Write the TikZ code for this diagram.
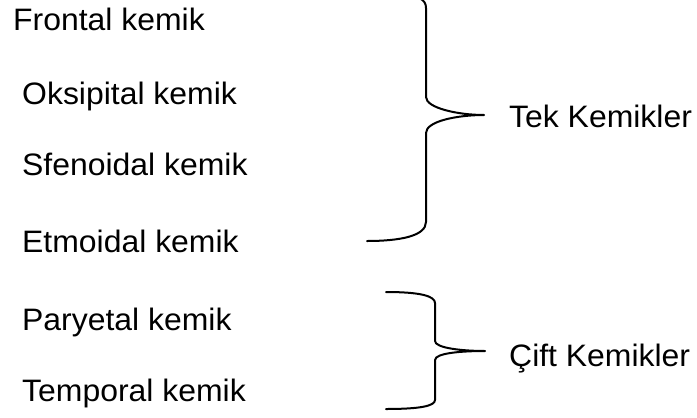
\documentclass[tikz,border=0pt]{standalone}
\usepackage{fontspec}
\setmainfont{Liberation Sans}[FakeStretch=1.03]
\begin{document}
\begin{tikzpicture}[x=1pt,y=-1pt,
  lbl/.style={anchor=base west,inner sep=0pt,font=\fontsize{31}{37}\selectfont},
  brace/.style={line width=2pt,line cap=round,line join=round}]
\useasboundingbox (0,0) rectangle (697,418);
\clip (0,0) rectangle (697,418);
\node[lbl] (fr) at (13,30) {Frontal kemik};
\node[lbl] (ok) at (22,104) {Oksipital kemik};
\node[lbl] (sf) at (22,175) {Sfenoidal kemik};
\node[lbl] (et) at (22,252) {Etmoidal kemik};
\node[lbl] (pa) at (22,330) {Paryetal kemik};
\node[lbl] (te) at (22,401) {Temporal kemik};
\node[lbl] (tek) at (509,127) {Tek Kemikler};
\node[lbl] (cift) at (509,366) {Çift Kemikler};
\coordinate (b1s) at (395,-6);
\coordinate (b1t) at (484,115);
\coordinate (b1e) at (367,241);
\draw[brace] (b1s) .. controls (420,-5) and (426,0) .. (426,8)
  -- (426,97) .. controls (426,108) and (458,115) .. (b1t)
  .. controls (458,115) and (426,121) .. (426,133)
  -- (426,222) .. controls (426,236) and (400,241) .. (b1e);
\coordinate (b2s) at (386,292);
\coordinate (b2t) at (485,351);
\coordinate (b2e) at (386,409);
\draw[brace] (b2s) .. controls (420,292) and (435,296) .. (435,303)
  -- (435,341) .. controls (435,348) and (462,351) .. (b2t)
  .. controls (462,351) and (435,353) .. (435,360)
  -- (435,400) .. controls (435,406) and (420,409) .. (b2e);
\end{tikzpicture}
\end{document}
